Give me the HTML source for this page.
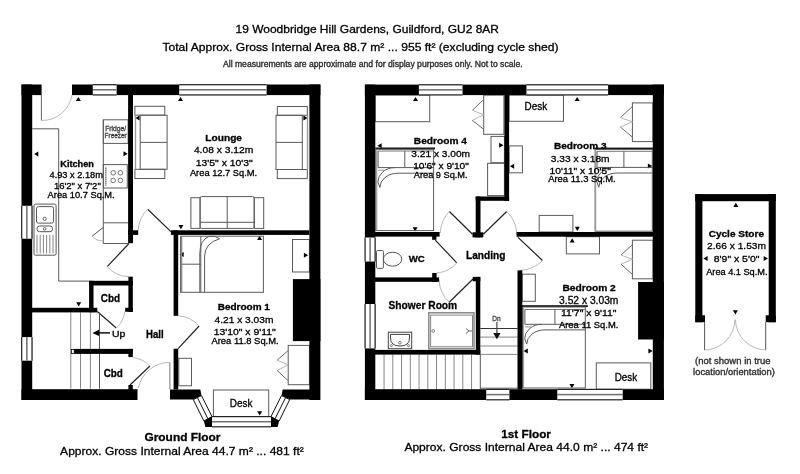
<!DOCTYPE html>
<html><head><meta charset="utf-8"><style>
html,body{margin:0;padding:0;background:#fff;width:800px;height:474px;overflow:hidden}
svg{display:block;filter:blur(0.3px)}
text{font-family:"Liberation Sans",sans-serif;stroke:#000;stroke-width:0.3px;paint-order:stroke}
</style></head><body>
<svg width="800" height="474" viewBox="0 0 800 474">
<rect width="800" height="474" fill="#fff"/>
<g id="furn">
<polygon points="78.3,96.9 80.8,101.1 75.8,101.1" fill="#000"/>
<polygon points="180.5,96.9 183.0,101.1 178.0,101.1" fill="#000"/>
<polygon points="34.1,154.1 38.3,151.6 38.3,156.6" fill="#000"/>
<polygon points="135.4,118 139.6,115.5 139.6,120.5" fill="#000"/>
<polygon points="307.6,118 303.4,115.5 303.4,120.5" fill="#000"/>
<polygon points="127.7,153.8 123.5,151.3 123.5,156.3" fill="#000"/>
<polygon points="180.9,229.3 183.4,225.1 178.4,225.1" fill="#000"/>
<polygon points="259.6,235.8 262.1,240.0 257.1,240.0" fill="#000"/>
<polygon points="308.1,255.3 303.9,252.8 303.9,257.8" fill="#000"/>
<polygon points="78.7,306.4 81.2,302.2 76.2,302.2" fill="#000"/>
<polygon points="259.7,415.4 262.2,411.2 257.2,411.2" fill="#000"/>
<polygon points="179.5,254.6 183.7,252.1 183.7,257.1" fill="#000"/>
<polygon points="415.5,96.9 418.0,101.1 413.0,101.1" fill="#000"/>
<polygon points="577.2,96.9 579.7,101.1 574.7,101.1" fill="#000"/>
<polygon points="377.4,145.8 381.6,143.3 381.6,148.3" fill="#000"/>
<polygon points="503.4,145.3 499.2,142.8 499.2,147.8" fill="#000"/>
<polygon points="509.9,166.2 514.1,163.7 514.1,168.7" fill="#000"/>
<polygon points="652.1,166 647.9,163.5 647.9,168.5" fill="#000"/>
<polygon points="415.1,231.5 417.6,227.3 412.6,227.3" fill="#000"/>
<polygon points="577.3,230.9 579.8,226.7 574.8,226.7" fill="#000"/>
<polygon points="572.2,238.2 574.7,242.4 569.7,242.4" fill="#000"/>
<polygon points="523.6,351 527.8,348.5 527.8,353.5" fill="#000"/>
<polygon points="652.6,351 648.4,348.5 648.4,353.5" fill="#000"/>
<polygon points="571.9,388.2 574.4,384.0 569.4,384.0" fill="#000"/>
<polygon points="735.8,202.7 738.3,206.9 733.3,206.9" fill="#000"/>
<polygon points="735.4,314.5 737.9,310.3 732.9,310.3" fill="#000"/>
<polygon points="703.4,258.4 707.6,255.9 707.6,260.9" fill="#000"/>
<polygon points="767.9,258.4 763.7,255.9 763.7,260.9" fill="#000"/>
<path d="M32.2,128.8 H58.7 V281.1 H89.1" fill="none" stroke="#5a5a5a" stroke-width="1"/>
<rect x="103.3" y="119.8" width="24.8" height="23.6" fill="none" stroke="#5a5a5a" stroke-width="1"/>
<line x1="103.3" y1="119.8" x2="103.3" y2="243.5" stroke="#5a5a5a" stroke-width="1"/>
<rect x="103.3" y="164.6" width="24.0" height="23.4" fill="none" stroke="#5a5a5a" stroke-width="1"/>
<circle cx="113.2" cy="172.8" r="2.3" fill="none" stroke="#555" stroke-width="0.8"/>
<circle cx="120.4" cy="172.8" r="2.3" fill="none" stroke="#555" stroke-width="0.8"/>
<circle cx="113.2" cy="180.4" r="2.3" fill="none" stroke="#555" stroke-width="0.8"/>
<circle cx="120.4" cy="180.4" r="2.3" fill="none" stroke="#555" stroke-width="0.8"/>
<line x1="105.8" y1="167" x2="105.8" y2="186" stroke="#666" stroke-width="1.2"/>
<line x1="105.8" y1="167" x2="105.8" y2="186" stroke="#fff" stroke-width="1.4" stroke-dasharray="0.6 1.6"/>
<line x1="103.3" y1="222.8" x2="128.1" y2="222.8" stroke="#5a5a5a" stroke-width="1"/>
<line x1="103.3" y1="243.5" x2="128.1" y2="243.5" stroke="#5a5a5a" stroke-width="1"/>
<path d="M103.3,227.3 L92.2,236.1" fill="none" stroke="#555" stroke-width="1"/>
<path d="M92.2,236.1 A12,12 0 0 0 103.3,240.6" fill="none" stroke="#b8b8b8" stroke-width="1"/>
<rect x="34" y="204.1" width="22.1" height="51.1" fill="none" stroke="#444" stroke-width="0.9" rx="1.5"/>
<rect x="36.5" y="206.6" width="17.1" height="16.5" fill="none" stroke="#444" stroke-width="0.9" rx="2"/>
<circle cx="44.7" cy="218.8" r="1.6" fill="none" stroke="#444" stroke-width="0.8"/>
<rect x="37" y="226" width="15.5" height="5.7" fill="none" stroke="#444" stroke-width="0.9" rx="2.5"/>
<circle cx="44.7" cy="228.9" r="1.3" fill="none" stroke="#444" stroke-width="0.8"/>
<line x1="37.0" y1="234.9" x2="37.0" y2="253.5" stroke="#666" stroke-width="0.8"/>
<line x1="40.2" y1="234.9" x2="40.2" y2="253.5" stroke="#666" stroke-width="0.8"/>
<line x1="43.4" y1="234.9" x2="43.4" y2="253.5" stroke="#666" stroke-width="0.8"/>
<line x1="46.6" y1="234.9" x2="46.6" y2="253.5" stroke="#666" stroke-width="0.8"/>
<line x1="49.8" y1="234.9" x2="49.8" y2="253.5" stroke="#666" stroke-width="0.8"/>
<line x1="53.0" y1="234.9" x2="53.0" y2="253.5" stroke="#666" stroke-width="0.8"/>
<line x1="41.4" y1="95" x2="41.4" y2="120.5" stroke="#666" stroke-width="1"/>
<path d="M41.4,120.5 A30.5,30.5 0 0 0 72,95" fill="none" stroke="#b8b8b8" stroke-width="1"/>
<line x1="129" y1="243.5" x2="107.2" y2="266.6" stroke="#222" stroke-width="1.2"/>
<path d="M107.2,266.6 A30,30 0 0 0 128.7,276.7" fill="none" stroke="#b8b8b8" stroke-width="1"/>
<line x1="170.9" y1="231.6" x2="147.7" y2="209.2" stroke="#222" stroke-width="1.2"/>
<path d="M147.7,209.2 A32,32 0 0 0 138.2,230.3" fill="none" stroke="#b8b8b8" stroke-width="1"/>
<line x1="97.3" y1="311.5" x2="116.3" y2="328" stroke="#222" stroke-width="1.2"/>
<path d="M116.3,328 A25,25 0 0 0 124.6,311.6" fill="none" stroke="#b8b8b8" stroke-width="1"/>
<line x1="130" y1="385" x2="149.9" y2="366" stroke="#222" stroke-width="1.2"/>
<path d="M149.9,366 A28,28 0 0 0 132.8,357.5" fill="none" stroke="#b8b8b8" stroke-width="1"/>
<line x1="169.9" y1="362.7" x2="169.9" y2="389.3" stroke="#777" stroke-width="1"/>
<path d="M169.9,362.5 A31.5,31.5 0 0 0 138.3,388.5" fill="none" stroke="#b8b8b8" stroke-width="1"/>
<line x1="178.2" y1="348.7" x2="199.1" y2="326" stroke="#222" stroke-width="1.2"/>
<path d="M199.1,326 A31,31 0 0 0 178.2,315.8" fill="none" stroke="#b8b8b8" stroke-width="1"/>
<line x1="70.8" y1="312.4" x2="70.8" y2="388.7" stroke="#888" stroke-width="1"/>
<line x1="80.5" y1="312.4" x2="80.5" y2="388.7" stroke="#888" stroke-width="1"/>
<line x1="90.4" y1="312.4" x2="90.4" y2="388.7" stroke="#888" stroke-width="1"/>
<line x1="99.5" y1="312.4" x2="99.5" y2="388.7" stroke="#555" stroke-width="1"/>
<line x1="96" y1="332.9" x2="110" y2="332.9" stroke="#000" stroke-width="1.4"/>
<polygon points="92.4,332.9 99,329.7 99,336.1" fill="#000"/>
<rect x="134.9" y="106.3" width="29.9" height="8.9" fill="none" stroke="#5a5a5a" stroke-width="1"/>
<rect x="134.9" y="169.3" width="29.9" height="9.2" fill="none" stroke="#5a5a5a" stroke-width="1"/>
<rect x="140.2" y="115.2" width="26.9" height="54.1" fill="none" stroke="#5a5a5a" stroke-width="1"/>
<line x1="140.2" y1="142.4" x2="167.1" y2="142.4" stroke="#5a5a5a" stroke-width="1"/>
<line x1="135.5" y1="115.2" x2="135.5" y2="169.3" stroke="#999" stroke-width="1.4"/>
<rect x="277.3" y="106.5" width="30.0" height="8.8" fill="none" stroke="#5a5a5a" stroke-width="1"/>
<rect x="277.3" y="169.5" width="30.0" height="9.1" fill="none" stroke="#5a5a5a" stroke-width="1"/>
<rect x="276" y="115.3" width="26.3" height="54.2" fill="none" stroke="#5a5a5a" stroke-width="1"/>
<line x1="276" y1="142.4" x2="302.3" y2="142.4" stroke="#5a5a5a" stroke-width="1"/>
<line x1="307.5" y1="115.3" x2="307.5" y2="169.5" stroke="#999" stroke-width="1.4"/>
<rect x="190.9" y="197.7" width="9.2" height="30.7" fill="none" stroke="#5a5a5a" stroke-width="1"/>
<rect x="254.2" y="197.7" width="9.5" height="30.7" fill="none" stroke="#5a5a5a" stroke-width="1"/>
<rect x="200.1" y="196.6" width="54.1" height="31.8" fill="none" stroke="#5a5a5a" stroke-width="1" rx="1.5"/>
<line x1="227.2" y1="196.6" x2="227.2" y2="228.4" stroke="#5a5a5a" stroke-width="1"/>
<line x1="200.1" y1="222.3" x2="254.2" y2="222.3" stroke="#5a5a5a" stroke-width="1"/>
<rect x="180.6" y="236.2" width="82.8" height="56.1" fill="none" stroke="#5a5a5a" stroke-width="1"/>
<line x1="181.6" y1="236.2" x2="181.6" y2="292.3" stroke="#888" stroke-width="1.4"/>
<line x1="182" y1="264.2" x2="200.8" y2="264.2" stroke="#5a5a5a" stroke-width="1"/>
<line x1="200.8" y1="236.2" x2="200.8" y2="292.3" stroke="#5a5a5a" stroke-width="1"/>
<path d="M199.8,292.3 V254 Q199.8,240 209,236.4 L215,236.4 L219.5,238.8" fill="none" stroke="#5a5a5a" stroke-width="1"/>
<path d="M204.6,292.3 V256 Q205,243 219.5,238.8" fill="none" stroke="#5a5a5a" stroke-width="1"/>
<rect x="292.5" y="239.5" width="16.9" height="32.5" fill="none" stroke="#5a5a5a" stroke-width="1"/>
<rect x="178.8" y="358.3" width="12.7" height="27.5" fill="none" stroke="#5a5a5a" stroke-width="1"/>
<rect x="288.2" y="345.4" width="21.2" height="39.3" fill="none" stroke="#5a5a5a" stroke-width="1"/>
<line x1="288.2" y1="350.5" x2="277.1" y2="360.2" stroke="#6a6a6a" stroke-width="1"/>
<line x1="277.1" y1="360.2" x2="288.2" y2="364.8" stroke="#b5b5b5" stroke-width="1"/>
<line x1="288.2" y1="364.8" x2="277.1" y2="370.5" stroke="#b5b5b5" stroke-width="1"/>
<line x1="277.1" y1="370.5" x2="288.2" y2="380.7" stroke="#6a6a6a" stroke-width="1"/>
<rect x="213.4" y="390" width="55.3" height="26.6" fill="none" stroke="#5a5a5a" stroke-width="1"/>
<rect x="375.3" y="95.1" width="54.4" height="26.6" fill="none" stroke="#5a5a5a" stroke-width="1"/>
<rect x="483.7" y="95.1" width="20.2" height="39.2" fill="none" stroke="#5a5a5a" stroke-width="1"/>
<line x1="483.7" y1="99.5" x2="472.3" y2="110.3" stroke="#6a6a6a" stroke-width="1"/>
<line x1="472.3" y1="110.3" x2="483.7" y2="114.7" stroke="#b5b5b5" stroke-width="1"/>
<line x1="483.7" y1="114.7" x2="472.3" y2="120.4" stroke="#b5b5b5" stroke-width="1"/>
<line x1="472.3" y1="120.4" x2="483.7" y2="129.3" stroke="#6a6a6a" stroke-width="1"/>
<rect x="491" y="136.4" width="13.4" height="26.3" fill="none" stroke="#5a5a5a" stroke-width="1"/>
<rect x="487.6" y="163.3" width="16.8" height="32.3" fill="none" stroke="#5a5a5a" stroke-width="1"/>
<rect x="375.3" y="147.5" width="59.7" height="1.8" fill="#111"/>
<rect x="375.90000000000003" y="149.3" width="57.7" height="81.3" fill="none" stroke="#5a5a5a" stroke-width="1"/>
<line x1="376.8" y1="149.3" x2="376.8" y2="230.6" stroke="#999" stroke-width="1"/>
<line x1="378.1" y1="151" x2="433.6" y2="151" stroke="#777" stroke-width="1"/>
<line x1="378.1" y1="151" x2="378.1" y2="167.6" stroke="#5a5a5a" stroke-width="1"/>
<line x1="404.8" y1="151" x2="404.8" y2="167.6" stroke="#5a5a5a" stroke-width="1"/>
<line x1="378.1" y1="167.6" x2="433.6" y2="167.6" stroke="#5a5a5a" stroke-width="1"/>
<line x1="378.1" y1="170.2" x2="384.1" y2="170.2" stroke="#888" stroke-width="0.9"/>
<path d="M433.6,173.2 H398.1 A18.2,14.2 0 0 0 379.9,187.4" fill="none" stroke="#5a5a5a" stroke-width="1"/>
<path d="M394.8,167.6 A16.9,14.5 0 0 0 377.9,182.1 L379.9,187.4" fill="none" stroke="#5a5a5a" stroke-width="1"/>
<rect x="509.1" y="95.1" width="54.4" height="26.2" fill="none" stroke="#5a5a5a" stroke-width="1"/>
<rect x="632.4" y="102.9" width="20.4" height="38.7" fill="none" stroke="#5a5a5a" stroke-width="1"/>
<line x1="632.4" y1="106.5" x2="620.4" y2="117.6" stroke="#6a6a6a" stroke-width="1"/>
<line x1="620.4" y1="117.6" x2="632.4" y2="121.8" stroke="#b5b5b5" stroke-width="1"/>
<line x1="632.4" y1="121.8" x2="620.4" y2="127.1" stroke="#b5b5b5" stroke-width="1"/>
<line x1="620.4" y1="127.1" x2="632.4" y2="137.1" stroke="#6a6a6a" stroke-width="1"/>
<rect x="509.1" y="145.9" width="13.3" height="26.9" fill="none" stroke="#5a5a5a" stroke-width="1"/>
<rect x="594.5" y="147.6" width="58.5" height="1.8" fill="#111"/>
<rect x="595.1" y="149.4" width="57.2" height="81.8" fill="none" stroke="#5a5a5a" stroke-width="1"/>
<line x1="595.7" y1="149.4" x2="595.7" y2="231.2" stroke="#999" stroke-width="1"/>
<line x1="597" y1="151.3" x2="652.3" y2="151.3" stroke="#777" stroke-width="1"/>
<line x1="597" y1="151.3" x2="597" y2="167.4" stroke="#5a5a5a" stroke-width="1"/>
<line x1="623.9" y1="151.3" x2="623.9" y2="167.4" stroke="#5a5a5a" stroke-width="1"/>
<line x1="597" y1="167.4" x2="652.3" y2="167.4" stroke="#5a5a5a" stroke-width="1"/>
<line x1="597" y1="170.0" x2="603" y2="170.0" stroke="#888" stroke-width="0.9"/>
<path d="M652.3,173.0 H617 A18.2,14.2 0 0 0 598.8,187.2" fill="none" stroke="#5a5a5a" stroke-width="1"/>
<path d="M613.7,167.4 A16.9,14.5 0 0 0 596.8,181.9 L598.8,187.2" fill="none" stroke="#5a5a5a" stroke-width="1"/>
<rect x="539.2" y="215.4" width="33.7" height="16.6" fill="none" stroke="#5a5a5a" stroke-width="1"/>
<rect x="566.3" y="236.7" width="33.2" height="17.2" fill="none" stroke="#5a5a5a" stroke-width="1"/>
<rect x="632.4" y="240.2" width="20.6" height="38.6" fill="none" stroke="#5a5a5a" stroke-width="1"/>
<line x1="632.4" y1="244.6" x2="621.0" y2="255.1" stroke="#6a6a6a" stroke-width="1"/>
<line x1="621.0" y1="255.1" x2="632.4" y2="259.2" stroke="#b5b5b5" stroke-width="1"/>
<line x1="632.4" y1="259.2" x2="621.0" y2="264.2" stroke="#b5b5b5" stroke-width="1"/>
<line x1="621.0" y1="264.2" x2="632.4" y2="274.4" stroke="#6a6a6a" stroke-width="1"/>
<rect x="522.2" y="274.2" width="13.1" height="27.1" fill="none" stroke="#5a5a5a" stroke-width="1"/>
<rect x="522" y="305.2" width="65.8" height="1.8" fill="#111"/>
<rect x="522.6" y="307" width="62.7" height="81" fill="none" stroke="#5a5a5a" stroke-width="1"/>
<line x1="523.6" y1="307" x2="523.6" y2="388" stroke="#999" stroke-width="1"/>
<line x1="524.9" y1="309.5" x2="585.3" y2="309.5" stroke="#777" stroke-width="1"/>
<line x1="524.9" y1="309.5" x2="524.9" y2="324.3" stroke="#5a5a5a" stroke-width="1"/>
<line x1="554.9" y1="309.5" x2="554.9" y2="324.3" stroke="#5a5a5a" stroke-width="1"/>
<line x1="524.9" y1="324.3" x2="585.3" y2="324.3" stroke="#5a5a5a" stroke-width="1"/>
<line x1="524.9" y1="326.90000000000003" x2="530.9" y2="326.90000000000003" stroke="#888" stroke-width="0.9"/>
<path d="M585.3,329.9 H544.9 A18.2,14.2 0 0 0 526.7,344.1" fill="none" stroke="#5a5a5a" stroke-width="1"/>
<path d="M541.6,324.3 A16.9,14.5 0 0 0 524.7,338.8 L526.7,344.1" fill="none" stroke="#5a5a5a" stroke-width="1"/>
<rect x="596.3" y="362.9" width="54.5" height="26.3" fill="none" stroke="#5a5a5a" stroke-width="1"/>
<rect x="376.5" y="250.5" width="6.9" height="17.8" fill="none" stroke="#5a5a5a" stroke-width="1" rx="1"/>
<ellipse cx="392.6" cy="259.2" rx="9.2" ry="7" fill="none" stroke="#555" stroke-width="1"/>
<line x1="435.3" y1="240.2" x2="456.8" y2="262.8" stroke="#222" stroke-width="1.2"/>
<path d="M456.8,262.8 A30,30 0 0 1 436.4,273" fill="none" stroke="#b8b8b8" stroke-width="1"/>
<line x1="472.5" y1="234.2" x2="449.4" y2="211.5" stroke="#222" stroke-width="1.2"/>
<path d="M449.4,211.5 A32,32 0 0 0 440.3,233" fill="none" stroke="#b8b8b8" stroke-width="1"/>
<line x1="483.3" y1="234.2" x2="506.7" y2="211.5" stroke="#222" stroke-width="1.2"/>
<path d="M506.7,211.5 A32,32 0 0 1 516.6,232.3" fill="none" stroke="#b8b8b8" stroke-width="1"/>
<line x1="518" y1="237.4" x2="542.5" y2="260.5" stroke="#222" stroke-width="1.2"/>
<path d="M542.5,260.5 A33,33 0 0 1 519.5,270.4" fill="none" stroke="#b8b8b8" stroke-width="1"/>
<line x1="473" y1="279" x2="449.2" y2="302.2" stroke="#222" stroke-width="1.2"/>
<path d="M449.2,302.2 A32,32 0 0 1 439.1,280" fill="none" stroke="#b8b8b8" stroke-width="1"/>
<rect x="428.8" y="312.8" width="45.2" height="35.9" fill="none" stroke="#888" stroke-width="1.5"/>
<rect x="430.7" y="315.1" width="41.8" height="31.7" fill="none" stroke="#666" stroke-width="0.8"/>
<circle cx="433.2" cy="331" r="1.4" fill="none" stroke="#666" stroke-width="0.8"/>
<path d="M466,328.5 L469,331 L466,333.5 M469,331 H472" fill="none" stroke="#555" stroke-width="0.9"/>
<rect x="388.3" y="332.2" width="23.4" height="16.5" fill="none" stroke="#444" stroke-width="1"/>
<path d="M390.5,334.4 H409.5 V338 Q409.5,346 400,346 Q390.5,346 390.5,338 Z" fill="none" stroke="#444" stroke-width="1"/>
<circle cx="399.9" cy="342.7" r="1.3" fill="none" stroke="#555" stroke-width="0.8"/>
<circle cx="391.4" cy="345.6" r="1" fill="none" stroke="#555" stroke-width="0.8"/>
<circle cx="408.5" cy="345.6" r="1" fill="none" stroke="#555" stroke-width="0.8"/>
<line x1="384.05" y1="354.6" x2="384.05" y2="389.2" stroke="#888" stroke-width="1"/>
<line x1="392.8" y1="354.6" x2="392.8" y2="389.2" stroke="#888" stroke-width="1"/>
<line x1="401.55" y1="354.6" x2="401.55" y2="389.2" stroke="#888" stroke-width="1"/>
<line x1="410.3" y1="354.6" x2="410.3" y2="389.2" stroke="#888" stroke-width="1"/>
<line x1="419.05" y1="354.6" x2="419.05" y2="389.2" stroke="#888" stroke-width="1"/>
<line x1="427.8" y1="354.6" x2="427.8" y2="389.2" stroke="#888" stroke-width="1"/>
<line x1="436.55" y1="354.6" x2="436.55" y2="389.2" stroke="#888" stroke-width="1"/>
<line x1="445.3" y1="354.6" x2="445.3" y2="389.2" stroke="#888" stroke-width="1"/>
<line x1="454.05" y1="354.6" x2="454.05" y2="389.2" stroke="#888" stroke-width="1"/>
<line x1="462.8" y1="354.6" x2="462.8" y2="389.2" stroke="#888" stroke-width="1"/>
<line x1="471.55" y1="354.6" x2="471.55" y2="389.2" stroke="#888" stroke-width="1"/>
<line x1="480.3" y1="354.6" x2="480.3" y2="389.2" stroke="#555" stroke-width="1"/>
<line x1="480.3" y1="328.5" x2="517.5" y2="328.5" stroke="#333" stroke-width="1"/>
<line x1="480.3" y1="337.1" x2="517.5" y2="337.1" stroke="#888" stroke-width="1"/>
<line x1="480.3" y1="346" x2="517.5" y2="346" stroke="#888" stroke-width="1"/>
<line x1="480.3" y1="354.4" x2="517.5" y2="354.4" stroke="#888" stroke-width="1"/>
<line x1="480.3" y1="388.2" x2="517.5" y2="388.2" stroke="#555" stroke-width="1"/>
<line x1="496.9" y1="322" x2="496.9" y2="334" stroke="#444" stroke-width="1.2"/>
<polygon points="493.2,333 500.6,333 496.9,339.3" fill="#111"/>
<line x1="704.6" y1="322.2" x2="704.6" y2="350" stroke="#555" stroke-width="1"/>
<line x1="765.7" y1="322.2" x2="765.7" y2="350" stroke="#555" stroke-width="1"/>
<path d="M704.6,350 A31,31 0 0 0 735,319.7" fill="none" stroke="#b8b8b8" stroke-width="1"/>
<path d="M765.7,350 A31,31 0 0 1 735.4,319.7" fill="none" stroke="#b8b8b8" stroke-width="1"/>
</g>
<g id="walls">
<rect x="21.5" y="84.5" width="10.7" height="315.5" fill="#000"/>
<rect x="21.5" y="84.5" width="20.1" height="10.6" fill="#000"/>
<rect x="72" y="84.5" width="248.4" height="10.6" fill="#000"/>
<rect x="309.4" y="84.5" width="11.0" height="315.5" fill="#000"/>
<rect x="21.5" y="389.2" width="116.0" height="10.8" fill="#000"/>
<polygon points="170,389.4 200.3,389.4 201.5,395.6 193.3,399.6 170,399.6" fill="#000"/>
<polygon points="313,389.4 282.7,389.4 281.5,395.6 289.7,399.6 313,399.6" fill="#000"/>
<rect x="292.9" y="279.1" width="27.5" height="62.0" fill="#000"/>
<rect x="92.8" y="84.5" width="23.8" height="10.6" fill="#fff"/>
<rect x="92.8" y="84.1" width="23.8" height="1.2" fill="#222"/>
<rect x="92.8" y="94.3" width="23.8" height="1.2" fill="#222"/>
<rect x="92.8" y="89.05" width="23.8" height="1.5" fill="#6e6e6e"/>
<rect x="179.2" y="84.5" width="87.4" height="10.6" fill="#fff"/>
<rect x="179.2" y="84.1" width="87.4" height="1.2" fill="#222"/>
<rect x="179.2" y="94.3" width="87.4" height="1.2" fill="#222"/>
<rect x="179.2" y="89.05" width="87.4" height="1.5" fill="#6e6e6e"/>
<rect x="21.5" y="205.8" width="10.7" height="32.9" fill="#fff"/>
<rect x="21.1" y="205.8" width="1.2" height="32.9" fill="#222"/>
<rect x="31.4" y="205.8" width="1.2" height="32.9" fill="#222"/>
<rect x="26.1" y="205.8" width="1.5" height="32.9" fill="#6e6e6e"/>
<rect x="21.5" y="337.1" width="10.7" height="23.6" fill="#fff"/>
<rect x="21.1" y="337.1" width="1.2" height="23.6" fill="#222"/>
<rect x="31.4" y="337.1" width="1.2" height="23.6" fill="#222"/>
<rect x="26.1" y="337.1" width="1.5" height="23.6" fill="#6e6e6e"/>
<rect x="128.1" y="95" width="4.9" height="148.2" fill="#000"/>
<rect x="128.1" y="230.3" width="10.1" height="4.6" fill="#000"/>
<rect x="128.4" y="276.7" width="4.4" height="35.3" fill="#000"/>
<rect x="89.1" y="280.8" width="43.7" height="4.7" fill="#000"/>
<rect x="89.1" y="280.8" width="4.4" height="31.4" fill="#000"/>
<rect x="32" y="307.8" width="65.3" height="4.6" fill="#000"/>
<rect x="125.2" y="307.8" width="7.6" height="4.0" fill="#000"/>
<rect x="74.2" y="348.9" width="58.6" height="5.0" fill="#000"/>
<rect x="71.3" y="349.4" width="2.9" height="4.0" fill="none" stroke="#000" stroke-width="0.8"/>
<rect x="128.4" y="348.9" width="4.4" height="8.2" fill="#000"/>
<rect x="128.4" y="385" width="4.4" height="5" fill="#000"/>
<rect x="170.9" y="230.3" width="138.5" height="4.6" fill="#000"/>
<rect x="173.6" y="230.3" width="4.6" height="85.5" fill="#000"/>
<rect x="173.6" y="348.7" width="4.6" height="40.8" fill="#000"/>
<polygon points="201.5,395.6 212,416.6 203.9,421 193.3,399.6" fill="#fff" stroke="#111" stroke-width="1"/>
<line x1="197.4" y1="397.6" x2="207.95" y2="418.8" stroke="#111" stroke-width="1"/>
<polygon points="281.5,395.6 271,416.6 279.1,421 289.7,399.6" fill="#fff" stroke="#111" stroke-width="1"/>
<line x1="285.6" y1="397.6" x2="275.05" y2="418.8" stroke="#111" stroke-width="1"/>
<polygon points="203.9,421 212,416.6 212.3,427 205.4,427" fill="#000"/>
<polygon points="279.1,421 271,416.6 270.7,427 277.6,427" fill="#000"/>
<rect x="212" y="416.4" width="59" height="10.6" fill="#fff"/>
<rect x="212" y="416.0" width="59" height="1.2" fill="#222"/>
<rect x="212" y="426.2" width="59" height="1.2" fill="#222"/>
<rect x="212" y="420.95" width="59" height="1.5" fill="#6e6e6e"/>
<rect x="364.9" y="84.6" width="10.4" height="315.0" fill="#000"/>
<rect x="364.9" y="84.6" width="299.0" height="10.5" fill="#000"/>
<rect x="652.8" y="84.6" width="11.1" height="315.4" fill="#000"/>
<rect x="364.9" y="389.2" width="299.0" height="10.8" fill="#000"/>
<rect x="638.1" y="282" width="25.8" height="57.5" fill="#000"/>
<rect x="418.9" y="84.6" width="43.6" height="10.5" fill="#fff"/>
<rect x="418.9" y="84.2" width="43.6" height="1.2" fill="#222"/>
<rect x="418.9" y="94.3" width="43.6" height="1.2" fill="#222"/>
<rect x="418.9" y="89.1" width="43.6" height="1.5" fill="#6e6e6e"/>
<rect x="526.5" y="84.6" width="81.6" height="10.5" fill="#fff"/>
<rect x="526.5" y="84.2" width="81.6" height="1.2" fill="#222"/>
<rect x="526.5" y="94.3" width="81.6" height="1.2" fill="#222"/>
<rect x="526.5" y="89.1" width="81.6" height="1.5" fill="#6e6e6e"/>
<rect x="486.2" y="389.2" width="23.2" height="10.8" fill="#fff"/>
<rect x="486.2" y="388.8" width="23.2" height="1.2" fill="#222"/>
<rect x="486.2" y="399.2" width="23.2" height="1.2" fill="#222"/>
<rect x="486.2" y="393.85" width="23.2" height="1.5" fill="#6e6e6e"/>
<rect x="557.3" y="389.2" width="65.4" height="10.8" fill="#fff"/>
<rect x="557.3" y="388.8" width="65.4" height="1.2" fill="#222"/>
<rect x="557.3" y="399.2" width="65.4" height="1.2" fill="#222"/>
<rect x="557.3" y="393.85" width="65.4" height="1.5" fill="#6e6e6e"/>
<rect x="364.9" y="237.5" width="10.4" height="24.0" fill="#fff"/>
<rect x="364.5" y="237.5" width="1.2" height="24.0" fill="#222"/>
<rect x="374.5" y="237.5" width="1.2" height="24.0" fill="#222"/>
<rect x="369.35" y="237.5" width="1.5" height="24.0" fill="#6e6e6e"/>
<rect x="364.9" y="304" width="10.4" height="44.4" fill="#fff"/>
<rect x="364.5" y="304" width="1.2" height="44.4" fill="#222"/>
<rect x="374.5" y="304" width="1.2" height="44.4" fill="#222"/>
<rect x="369.35" y="304" width="1.5" height="44.4" fill="#6e6e6e"/>
<rect x="504.4" y="95" width="4.7" height="105.8" fill="#000"/>
<rect x="475.7" y="196.5" width="33.4" height="4.3" fill="#000"/>
<rect x="475.7" y="196.5" width="4.8" height="40.9" fill="#000"/>
<rect x="472.5" y="232.3" width="10.8" height="5.1" fill="#000"/>
<rect x="375" y="232" width="64.6" height="4.6" fill="#000"/>
<rect x="432.2" y="232" width="4.2" height="7.8" fill="#000"/>
<rect x="375" y="277.4" width="64.1" height="4.4" fill="#000"/>
<rect x="432.2" y="273" width="4.4" height="8.8" fill="#000"/>
<rect x="475.8" y="276.9" width="4.5" height="77.7" fill="#000"/>
<rect x="472.7" y="276.9" width="7.6" height="4.4" fill="#000"/>
<rect x="375" y="349.9" width="105.3" height="4.7" fill="#000"/>
<rect x="516.5" y="232" width="136.5" height="4.7" fill="#000"/>
<rect x="517.5" y="270.4" width="4.8" height="119.1" fill="#000"/>
<rect x="695.3" y="194.1" width="80.5" height="7.1" fill="#000"/>
<rect x="695.3" y="194.1" width="7.1" height="128.1" fill="#000"/>
<rect x="768.7" y="194.1" width="7.1" height="128.1" fill="#000"/>
<rect x="695.3" y="315.3" width="9.7" height="6.9" fill="#000"/>
<rect x="765.7" y="315.3" width="10.1" height="6.9" fill="#000"/>
</g>
<g id="text">
<text x="235.5" y="32.8" font-size="11.52" fill="#000" textLength="263.5" lengthAdjust="spacingAndGlyphs">19 Woodbridge Hill Gardens, Guildford, GU2 8AR</text>
<text x="162.4" y="51.4" font-size="11.62" fill="#000" textLength="396.2" lengthAdjust="spacingAndGlyphs">Total Approx. Gross Internal Area 88.7 m² ... 955 ft² (excluding cycle shed)</text>
<text x="223" y="66.8" font-size="8.15" stroke-width="0.14" fill="#333" textLength="299.6" lengthAdjust="spacingAndGlyphs">All measurements are approximate and for display purposes only. Not to scale.</text>
<text x="105.2" y="130.5" font-size="6.98" stroke-width="0.1" stroke="#555" fill="#555" textLength="20.9" lengthAdjust="spacingAndGlyphs">Fridge/</text>
<text x="104.6" y="138" font-size="6.98" stroke-width="0.1" stroke="#555" fill="#555" textLength="22.1" lengthAdjust="spacingAndGlyphs">Freezer</text>
<text x="60.3" y="167.1" font-size="8.83" font-weight="bold" stroke-width="0.4" fill="#000" textLength="33.5" lengthAdjust="spacingAndGlyphs">Kitchen</text>
<text x="49.5" y="177.8" font-size="8.92" fill="#000" textLength="53.4" lengthAdjust="spacingAndGlyphs">4.93 x 2.18m</text>
<text x="53.9" y="189.2" font-size="9.31" fill="#000" textLength="46.9" lengthAdjust="spacingAndGlyphs">16'2&quot; x 7'2&quot;</text>
<text x="47.6" y="197.5" font-size="9.02" fill="#000" textLength="67.1" lengthAdjust="spacingAndGlyphs">Area 10.7 Sq.M.</text>
<text x="205.3" y="140.5" font-size="9.89" font-weight="bold" stroke-width="0.4" fill="#000" textLength="36.7" lengthAdjust="spacingAndGlyphs">Lounge</text>
<text x="193.9" y="152.8" font-size="9.89" fill="#000" textLength="59.3" lengthAdjust="spacingAndGlyphs">4.08 x 3.12m</text>
<text x="195.8" y="165.5" font-size="9.31" fill="#000" textLength="57.0" lengthAdjust="spacingAndGlyphs">13'5&quot; x 10'3&quot;</text>
<text x="189.9" y="175.6" font-size="9.02" fill="#000" textLength="67.3" lengthAdjust="spacingAndGlyphs">Area 12.7 Sq.M.</text>
<text x="217.7" y="310.2" font-size="9.7" font-weight="bold" stroke-width="0.4" fill="#000" textLength="52.2" lengthAdjust="spacingAndGlyphs">Bedroom 1</text>
<text x="214.6" y="322.6" font-size="9.89" fill="#000" textLength="58.8" lengthAdjust="spacingAndGlyphs">4.21 x 3.03m</text>
<text x="213.7" y="334.9" font-size="9.31" fill="#000" textLength="62.0" lengthAdjust="spacingAndGlyphs">13'10&quot; x 9'11&quot;</text>
<text x="211.4" y="344.4" font-size="9.12" fill="#000" textLength="67.3" lengthAdjust="spacingAndGlyphs">Area 11.8 Sq.M.</text>
<text x="100.8" y="301.5" font-size="10.28" font-weight="bold" stroke-width="0.4" fill="#000" textLength="19.3" lengthAdjust="spacingAndGlyphs">Cbd</text>
<text x="103.7" y="376.5" font-size="10.28" font-weight="bold" stroke-width="0.4" fill="#000" textLength="19.2" lengthAdjust="spacingAndGlyphs">Cbd</text>
<text x="146" y="338" font-size="10.28" font-weight="bold" stroke-width="0.4" fill="#000" textLength="17.7" lengthAdjust="spacingAndGlyphs">Hall</text>
<text x="111.9" y="336.9" font-size="9.12" fill="#000" textLength="13.3" lengthAdjust="spacingAndGlyphs">Up</text>
<text x="229.7" y="407.3" font-size="10.28" fill="#000" textLength="22.7" lengthAdjust="spacingAndGlyphs">Desk</text>
<text x="144.5" y="440.9" font-size="11.42" font-weight="bold" stroke-width="0.4" fill="#000" textLength="75.9" lengthAdjust="spacingAndGlyphs">Ground Floor</text>
<text x="60.1" y="455.4" font-size="11.52" fill="#000" textLength="243.7" lengthAdjust="spacingAndGlyphs">Approx. Gross Internal Area 44.7 m² ... 481 ft²</text>
<text x="501.3" y="437.5" font-size="11.33" font-weight="bold" stroke-width="0.4" fill="#000" textLength="49.6" lengthAdjust="spacingAndGlyphs">1st Floor</text>
<text x="404.4" y="451.4" font-size="11.52" fill="#000" textLength="243.7" lengthAdjust="spacingAndGlyphs">Approx. Gross Internal Area 44.0 m² ... 474 ft²</text>
<text x="413.8" y="144.2" font-size="9.89" font-weight="bold" stroke-width="0.4" fill="#000" textLength="53.2" lengthAdjust="spacingAndGlyphs">Bedroom 4</text>
<text x="411.3" y="156.6" font-size="9.89" fill="#000" textLength="58.8" lengthAdjust="spacingAndGlyphs">3.21 x 3.00m</text>
<text x="413.2" y="168.7" font-size="9.31" fill="#000" textLength="55.7" lengthAdjust="spacingAndGlyphs">10'6&quot; x 9'10&quot;</text>
<text x="413.8" y="178.4" font-size="8.92" fill="#000" textLength="53.8" lengthAdjust="spacingAndGlyphs">Area 9 Sq.M.</text>
<text x="553.9" y="149.2" font-size="9.8" font-weight="bold" stroke-width="0.4" fill="#000" textLength="52.6" lengthAdjust="spacingAndGlyphs">Bedroom 3</text>
<text x="550.8" y="161.8" font-size="9.89" fill="#000" textLength="58.8" lengthAdjust="spacingAndGlyphs">3.33 x 3.18m</text>
<text x="549.5" y="173.6" font-size="9.31" fill="#000" textLength="61.4" lengthAdjust="spacingAndGlyphs">10'11&quot; x 10'5&quot;</text>
<text x="548.2" y="182.1" font-size="9.12" fill="#000" textLength="67.5" lengthAdjust="spacingAndGlyphs">Area 11.3 Sq.M.</text>
<text x="562.4" y="291.1" font-size="9.89" font-weight="bold" stroke-width="0.4" fill="#000" textLength="53.4" lengthAdjust="spacingAndGlyphs">Bedroom 2</text>
<text x="559.1" y="303.8" font-size="9.99" fill="#000" textLength="59.3" lengthAdjust="spacingAndGlyphs">3.52 x 3.03m</text>
<text x="561.1" y="316.1" font-size="9.31" fill="#000" textLength="55.4" lengthAdjust="spacingAndGlyphs">11'7&quot; x 9'11&quot;</text>
<text x="558.9" y="328.1" font-size="9.12" fill="#000" textLength="59.5" lengthAdjust="spacingAndGlyphs">Area 11 Sq.M.</text>
<text x="408.7" y="262.2" font-size="9.8" font-weight="bold" stroke-width="0.4" fill="#000" textLength="16.1" lengthAdjust="spacingAndGlyphs">WC</text>
<text x="466.1" y="258.8" font-size="10.67" font-weight="bold" stroke-width="0.4" fill="#000" textLength="39.2" lengthAdjust="spacingAndGlyphs">Landing</text>
<text x="388.5" y="308.9" font-size="10.67" font-weight="bold" stroke-width="0.4" fill="#000" textLength="68.7" lengthAdjust="spacingAndGlyphs">Shower Room</text>
<text x="524.6" y="109.9" font-size="10.28" fill="#000" textLength="22.6" lengthAdjust="spacingAndGlyphs">Desk</text>
<text x="614.7" y="381" font-size="10.28" fill="#000" textLength="22.4" lengthAdjust="spacingAndGlyphs">Desk</text>
<text x="492.2" y="320.6" font-size="7.66" stroke-width="0.1" stroke="#555" fill="#555" textLength="8.4" lengthAdjust="spacingAndGlyphs">Dn</text>
<text x="708.7" y="236.9" font-size="9.7" font-weight="bold" stroke-width="0.4" fill="#000" textLength="55.3" lengthAdjust="spacingAndGlyphs">Cycle Store</text>
<text x="707.1" y="249.2" font-size="9.89" fill="#000" textLength="58.9" lengthAdjust="spacingAndGlyphs">2.66 x 1.53m</text>
<text x="713.8" y="261.8" font-size="9.31" fill="#000" textLength="45.6" lengthAdjust="spacingAndGlyphs">8'9&quot; x 5'0&quot;</text>
<text x="706.2" y="274.9" font-size="8.92" fill="#000" textLength="61.3" lengthAdjust="spacingAndGlyphs">Area 4.1 Sq.M.</text>
<text x="695.1" y="363.6" font-size="9.21" fill="#333" textLength="75.4" lengthAdjust="spacingAndGlyphs">(not shown in true</text>
<text x="693.1" y="375" font-size="9.12" fill="#333" textLength="81.8" lengthAdjust="spacingAndGlyphs">location/orientation)</text>
</g>
</svg>
</body></html>
